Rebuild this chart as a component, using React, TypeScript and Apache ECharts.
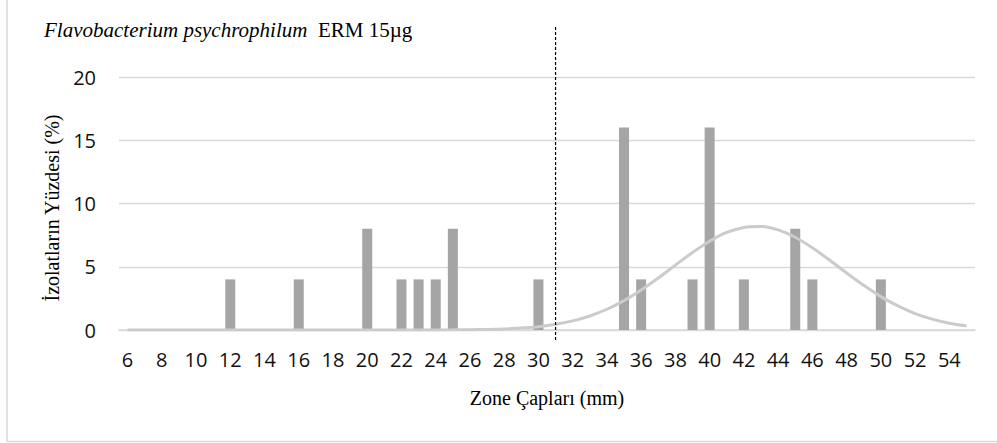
import React, { useEffect, useRef } from "react";
import * as echarts from "echarts";

const categories: string[] = [
  "6","7","8","9","10","11","12","13","14","15","16","17","18","19","20","21","22","23","24","25",
  "26","27","28","29","30","31","32","33","34","35","36","37","38","39","40","41","42","43","44","45",
  "46","47","48","49","50","51","52","53","54","55",
];

// percentage of isolates per zone diameter
const barValues: (number | null)[] = [
  null,null,null,null,null,null,4,null,null,null,4,null,null,null,8,null,4,4,4,8,
  null,null,null,null,4,null,null,null,null,16,4,null,null,4,16,null,4,null,null,8,
  4,null,null,null,4,null,null,null,null,null,
];

// fitted distribution curve
const curveValues: number[] = [
  0,0,0,0,0,0,0,0,0,0,0,0,0,0,0,0,0,0.002,0.005,0.011,
  0.022,0.043,0.083,0.152,0.266,0.447,0.72,1.11,1.64,2.32,3.16,4.11,5.13,6.13,7.02,7.71,8.11,8.18,7.91,7.33,
  6.5,5.53,4.51,3.53,2.64,1.9,1.3,0.86,0.54,0.33,
];

const yTicks = { min: 0, max: 20, interval: 5 };
const cutoffCategory = "31";

const titleItalic = "Flavobacterium psychrophilum";
const titleRest = "ERM 15µg";
const xTitle = "Zone Çapları (mm)";
const yTitle = "İzolatların Yüzdesi (%)";

export default function App() {
  const ref = useRef<HTMLDivElement>(null);
  useEffect(() => {
    if (!ref.current) return;
    const chart = echarts.init(ref.current, null, { renderer: "svg" });
    const labelFont = '"Open Sans", sans-serif';
    const serif = '"Liberation Serif", "Times New Roman", serif';
    chart.setOption({
      animation: false,
      backgroundColor: "#ffffff",
      grid: { left: 119, right: 22, top: 77, bottom: 113 },
      xAxis: {
        type: "category",
        data: categories,
        axisTick: { show: false },
        axisLine: { lineStyle: { color: "#d9d9d9", width: 1.5 } },
        axisLabel: {
          interval: 1,
          color: "#111",
          fontSize: 20,
          fontFamily: labelFont,
          margin: 19,
        },
      },
      yAxis: {
        type: "value",
        min: yTicks.min,
        max: yTicks.max,
        interval: yTicks.interval,
        axisLine: { show: false },
        axisTick: { show: false },
        axisLabel: { color: "#111", fontSize: 20, fontFamily: labelFont, margin: 23 },
        splitLine: { lineStyle: { color: "#d9d9d9", width: 1.3 } },
      },
      series: [
        {
          type: "bar",
          data: barValues,
          barWidth: 10,
          itemStyle: { color: "#a5a5a5" },
          z: 2,
        },
        {
          type: "line",
          data: curveValues,
          smooth: 0.3,
          showSymbol: false,
          lineStyle: { color: "#cbcbcb", width: 3 },
          z: 3,
        },
      ],
      graphic: [
        {
          type: "rect",
          shape: { x: 7, y: -10, width: 1010, height: 451.5 },
          style: { fill: "none", stroke: "#d9d9d9", lineWidth: 1.5 },
          silent: true,
        },
        {
          type: "text",
          x: 44,
          y: 30,
          style: {
            text: `{i|${titleItalic}}{n|  ${titleRest}}`,
            verticalAlign: "middle",
            rich: {
              i: { fontFamily: serif, fontStyle: "italic", fontSize: 21, fill: "#000" },
              n: { fontFamily: serif, fontSize: 21, fill: "#000" },
            },
          },
        },
        {
          type: "text",
          x: 547,
          y: 398,
          style: {
            text: xTitle,
            align: "center",
            verticalAlign: "middle",
            fontFamily: serif,
            fontSize: 20,
            fill: "#000",
          },
        },
        {
          type: "text",
          x: 52,
          y: 208,
          rotation: Math.PI / 2,
          style: {
            text: yTitle,
            align: "center",
            verticalAlign: "middle",
            fontFamily: serif,
            fontSize: 20,
            fill: "#000",
          },
        },
      ],
    });
    const cx = chart.convertToPixel({ xAxisIndex: 0 }, cutoffCategory) as number;
    chart.setOption({
      graphic: [
        {
          type: "line",
          id: "cutoff",
          shape: { x1: cx, y1: 27, x2: cx, y2: 341 },
          style: { stroke: "#000", lineWidth: 1.2, lineDash: [3, 2] },
          z: 10,
        },
      ],
    });
    return () => chart.dispose();
  }, []);
  return (
    <div
      ref={ref}
      style={{ position: "fixed", left: 0, top: 0, width: 997, height: 443 }}
    />
  );
}
